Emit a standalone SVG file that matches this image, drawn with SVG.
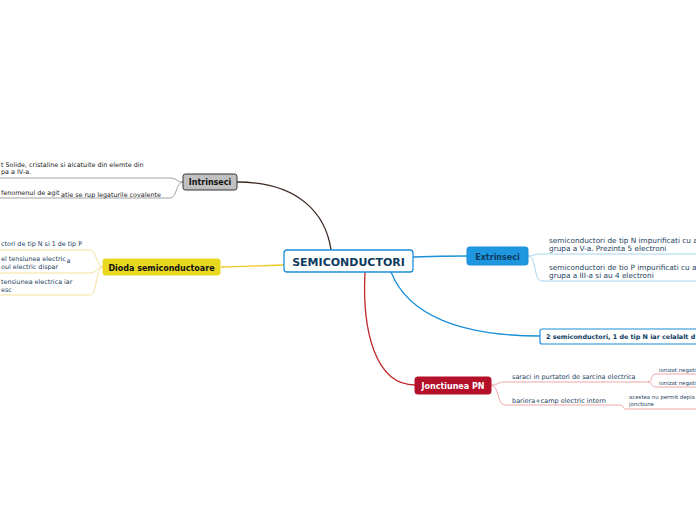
<svg xmlns="http://www.w3.org/2000/svg" width="696" height="520" viewBox="0 0 696 520">
<style>
.t{font-family:"DejaVu Sans",Verdana,sans-serif;font-size:6.4px;fill:#23415e}
.tb{font-family:"DejaVu Sans",Verdana,sans-serif;font-weight:bold}
.c{fill:none;stroke-width:1.3}
.s{fill:none;stroke-width:0.8}
</style>
<rect width="696" height="520" fill="#ffffff"/>
<g id="connectors">
<path class="c" stroke="#3a2520" d="M237,182 C300,182 326,215 331,250"/>
<path class="c" stroke="#f0c81e" d="M284,265 C250,266 240,267 221,267"/>
<path class="c" stroke="#1b8fd8" d="M413,257 C440,256 450,256 467,256"/>
<path class="c" stroke="#1b8fd8" d="M391,272 C408,315 460,336 540,336"/>
<path class="c" stroke="#c0282a" d="M365,272 C362,330 375,385 415,385"/>
<path class="s" stroke="#8a8a8a" d="M0,178 L170,178 C177,178 176,182 183,182"/>
<path class="s" stroke="#8a8a8a" d="M0,198 L170,198 C177,198 176,182 183,182"/>
<path class="s" stroke="#f5d880" d="M0,250 L90,250 C97,250 96,267 103,267"/>
<path class="s" stroke="#f5d880" d="M0,273 L90,273 C97,273 96,267 103,267"/>
<path class="s" stroke="#f5d880" d="M0,295 L90,295 C97,295 96,267 103,267"/>
<path class="s" stroke="#8ec8ec" d="M528,256 C534,256 534,254 540,254 L696,254"/>
<path class="s" stroke="#8ec8ec" d="M528,256 C537,256 533,281 542,281 L696,281"/>
<path class="s" stroke="#e89090" d="M491,385 C499,385 497,382 505,382 L648,382"/>
<path class="s" stroke="#e89090" d="M491,385 C499,385 497,405 505,405 L620,405"/>
<path class="s" stroke="#e89090" d="M648,382 C653,382 650,374 656,374 L696,374"/>
<path class="s" stroke="#e89090" d="M648,382 C653,382 650,387 656,387 L696,387"/>
<path class="s" stroke="#e89090" d="M620,405 C624,405 622,409 626,409 L696,409"/>
</g>
<g id="center">
<rect x="284" y="250" width="129" height="22" rx="3" fill="#ffffff" stroke="#1b8fd8" stroke-width="1.3"/>
<text class="tb" x="348.5" y="266" font-size="11" fill="#0d3b5e" text-anchor="middle">SEMICONDUCTORI</text>
</g>
<g id="intrinseci">
<rect x="183" y="174" width="54" height="16" rx="2.5" fill="#c0c0c0" stroke="#333" stroke-width="1"/>
<text class="tb" x="210" y="185" font-size="8" fill="#111" text-anchor="middle">Intrinseci</text>
<text class="t" style="fill:#222" x="1" y="167">t Solide, cristaline si alcatuite din elemte din</text>
<text class="t" style="fill:#222" x="1" y="174">pa a IV-a.</text>
<text class="t" style="fill:#222" x="1" y="195">fenomenul de agit</text>
<text class="t" style="fill:#222" x="61" y="196.5">atie se rup legaturile covalente</text>
</g>
<g id="dioda">
<rect x="103" y="259" width="117" height="16" rx="2" fill="#e8d820" stroke="#e8d820"/>
<text class="tb" x="161.5" y="270.5" font-size="8" fill="#111" text-anchor="middle">Dioda semiconductoare</text>
<text class="t" x="1" y="246">ctori de tip N si 1 de tip P</text>
<text class="t" x="1" y="261">el tensiunea electric</text>
<text class="t" x="66.5" y="263">a</text>
<text class="t" x="1" y="269">oul electric dispar</text>
<text class="t" x="1" y="284">tensiunea electrica iar</text>
<text class="t" x="1" y="291.5">esc</text>
</g>
<g id="extrinseci">
<rect x="467" y="247" width="61" height="18" rx="2.5" fill="#1e96e0" stroke="#1b8fd8"/>
<text class="tb" x="497.5" y="260" font-size="8" fill="#0d3b5e" text-anchor="middle">Extrinseci</text>
<text class="t" style="font-size:7.3px" x="549" y="243">semiconductori de tip N impurificati cu at</text>
<text class="t" style="font-size:7.3px" x="549" y="251">grupa a V-a. Prezinta 5 electroni</text>
<text class="t" style="font-size:7.3px" x="549" y="270">semiconductori de tio P impurificati cu ato</text>
<text class="t" style="font-size:7.3px" x="549" y="278">grupa a III-a si au 4 electroni</text>
</g>
<g id="doi-semiconductori">
<rect x="540" y="329" width="170" height="15" rx="2" fill="#ffffff" stroke="#1b8fd8" stroke-width="1.2"/>
<text class="tb" x="546" y="339" font-size="6.4" fill="#0d3b5e">2 semiconductori, 1 de tip N iar celalalt d</text>
</g>
<g id="jonctiunea">
<rect x="415" y="377" width="76" height="17" rx="2.5" fill="#b5102a" stroke="#b5102a"/>
<text class="tb" x="453" y="389" font-size="8" fill="#ffffff" text-anchor="middle">Jonctiunea PN</text>
<text class="t" style="font-size:6.5px" x="512" y="379">saraci in purtatori de sarcina electrica</text>
<text class="t" style="font-size:6.5px" x="512" y="403">bariera+camp electric intern</text>
<text class="t" style="font-size:5.4px" x="659" y="372">ionizat negati</text>
<text class="t" style="font-size:5.4px" x="659" y="385">ionizat negati</text>
<text class="t" style="font-size:5.4px" x="629" y="399">acestea nu permit depla</text>
<text class="t" style="font-size:5.4px" x="629" y="406">jonctiune</text>
</g>
</svg>
